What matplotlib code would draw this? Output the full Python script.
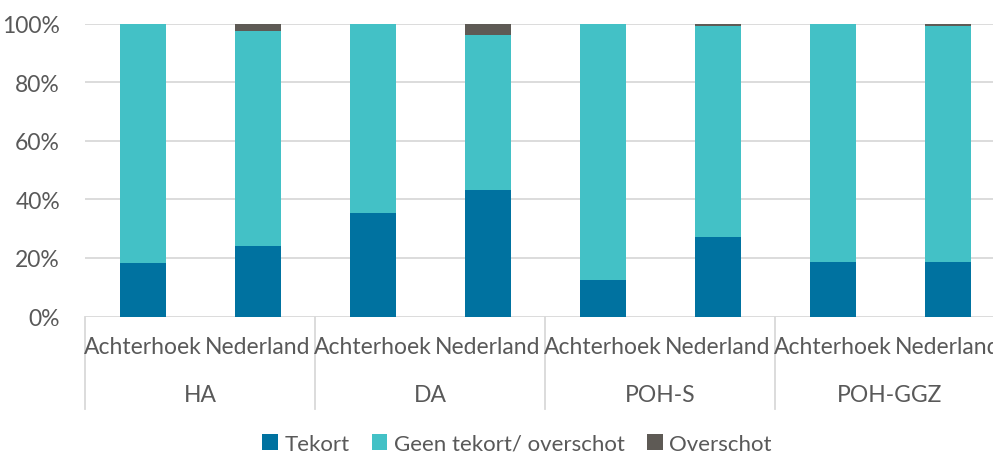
import matplotlib
matplotlib.use("Agg")
import matplotlib.pyplot as plt
from matplotlib.patches import Patch
import matplotlib.transforms as mtransforms

plt.rcParams['font.family'] = ['Lato', 'DejaVu Sans']

groups = ["HA", "DA", "POH-S", "POH-GGZ"]
regions = ["Achterhoek", "Nederland"]
tekort = [18.3, 24.2, 35.4, 43.3, 12.4, 27.2, 18.6, 18.7]
overschot = [0.0, 2.5, 0.0, 3.8, 0.0, 0.7, 0.0, 0.7]
geen = [100 - t - o for t, o in zip(tekort, overschot)]
series_names = ["Tekort", "Geen tekort/ overschot", "Overschot"]
colors = ["#0072A0", "#43C1C6", "#5E5A55"]
yticks = [0, 20, 40, 60, 80, 100]

text_color = "#595959"
grid_color = "#D9D9D9"
fs = 16.5

fig = plt.figure(figsize=(9.93, 4.56), dpi=100)
ax = fig.add_axes([85/993, 138.5/456, 920/993, 293/456])

x = list(range(len(tekort)))
w = 0.4
ax.bar(x, tekort, width=w, color=colors[0], zorder=3)
ax.bar(x, geen, width=w, bottom=tekort, color=colors[1], zorder=3)
bott = [t + g for t, g in zip(tekort, geen)]
ax.bar(x, overschot, width=w, bottom=bott, color=colors[2], zorder=3)

ax.set_xlim(-0.5, len(x) - 0.5)
ax.set_ylim(0, 100)
ax.set_yticks(yticks)
ax.set_yticklabels([f"{v}%" for v in yticks], fontsize=fs, color=text_color)
ax.tick_params(axis='y', length=0, pad=18)
ax.set_xticks([])
for v in yticks:
    ax.axhline(v, color=grid_color, lw=1.3, zorder=1)
for s in ax.spines.values():
    s.set_visible(False)

trans = mtransforms.blended_transform_factory(ax.transData, ax.transAxes)
for i in x:
    ax.text(i, -0.104, regions[i % 2], transform=trans, ha='center', va='center',
            fontsize=fs, color=text_color)
for gi, g in enumerate(groups):
    ax.text(gi * 2 + 0.5, -0.265, g, transform=trans, ha='center', va='center',
            fontsize=fs, color=text_color)
for sx in [-0.5, 1.5, 3.5, 5.5, 7.5]:
    ax.plot([sx, sx], [0, -0.316], transform=trans, color=grid_color, lw=1.3,
            clip_on=False, zorder=1)

handles = [Patch(facecolor=c, edgecolor='none') for c in colors]
fig.legend(handles, series_names, loc='center', bbox_to_anchor=(517/993, 1 - 445/456),
           ncol=3, frameon=False, fontsize=16, labelcolor=text_color,
           handlelength=0.7, handleheight=0.7, handletextpad=0.3, columnspacing=1.0)

fig.savefig("out.png", dpi=100)
